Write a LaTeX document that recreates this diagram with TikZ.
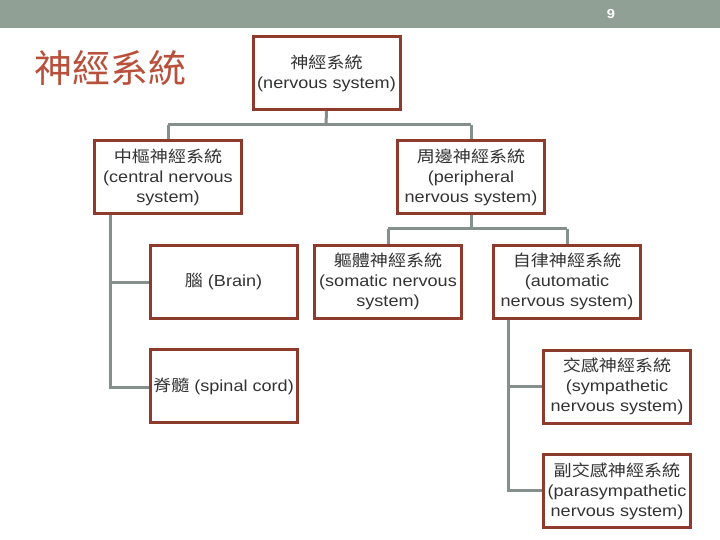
\documentclass[tikz,border=0pt]{standalone}
\usepackage{fontspec}
\setmainfont{Liberation Sans}[FakeStretch=1.13]
\newfontfamily\cjk{Noto Sans CJK TC}[FakeStretch=1.13]
\newfontfamily\cjktitle{Noto Sans CJK TC}
\definecolor{barc}{HTML}{91A094}
\definecolor{boxc}{HTML}{8E3B2E}
\definecolor{linec}{HTML}{858F8C}
\definecolor{titlec}{HTML}{B8503C}
\definecolor{txtc}{HTML}{333333}
\begin{document}
\begin{tikzpicture}[x=1pt,y=-1pt,
  box/.style={draw=boxc,line width=3pt,fill=white,align=center,text=txtc,
    font=\fontsize{16}{20}\selectfont,inner sep=0pt,minimum width=147pt,minimum height=73pt},
  conn/.style={draw=linec,line width=3pt}]
\useasboundingbox (0,0) rectangle (720,540);
\fill[barc] (0,0) rectangle (720,28);
\node[text=white,font=\fontsize{13}{14}\selectfont\bfseries] (pg) at (611,14.5) {9};
\node[text=titlec,font=\cjktitle\fontsize{38}{40}\selectfont,anchor=west,inner sep=0pt] (title) at (34,68) {神經系統};

\coordinate (j1) at (326,125);
\coordinate (j1l) at (168,125);
\coordinate (j1r) at (471,125);
\coordinate (j2) at (471,229);
\coordinate (j2l) at (388,229);
\coordinate (j2r) at (567,229);
\coordinate (c1) at (110,282);
\coordinate (c2) at (110,387);
\coordinate (a1) at (508,386);
\coordinate (a2) at (508,490);

\node[box] (ns) at (326.5,73) {{\cjk 神經系統}\\(nervous system)};
\node[box] (cns) at (168,177.5) {{\cjk 中樞神經系統}\\(central nervous\\system)};
\node[box] (pns) at (471,177.5) {{\cjk 周邊神經系統}\\(peripheral\\nervous system)};
\node[box] (brain) at (223.5,281.5) {{\cjk 腦} (Brain)};
\node[box] (spinal) at (223.5,386) {{\cjk 脊髓} (spinal cord)};
\node[box] (som) at (388,281.5) {{\cjk 軀體神經系統}\\(somatic nervous\\system)};
\node[box] (aut) at (567,281.5) {{\cjk 自律神經系統}\\(automatic\\nervous system)};
\node[box] (sym) at (617,386.5) {{\cjk 交感神經系統}\\(sympathetic\\nervous system)};
\node[box] (para) at (617,491) {{\cjk 副交感神經系統}\\(parasympathetic\\nervous system)};

\draw[conn] (ns.south) -- (j1);
\draw[conn] (j1l) -- (j1r);
\draw[conn] (j1l) -- (cns.north);
\draw[conn] (j1r) -- (pns.north);
\draw[conn] (pns.south) -- (j2);
\draw[conn] (j2l) -- (j2r);
\draw[conn] (j2l) -- (som.north);
\draw[conn] (j2r) -- (aut.north);
\draw[conn] (cns.south -| c1) -- (c2) -- (spinal.west |- c2);
\draw[conn] (c1) -- (brain.west |- c1);
\draw[conn] (aut.south -| a1) -- (a2) -- (para.west |- a2);
\draw[conn] (a1) -- (sym.west |- a1);
\end{tikzpicture}
\end{document}
